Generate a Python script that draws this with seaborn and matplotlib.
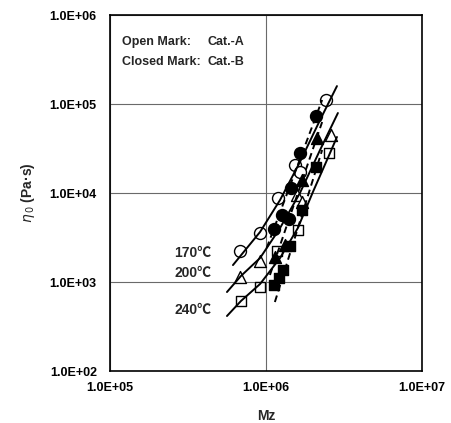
import matplotlib
matplotlib.use("Agg")
import matplotlib.pyplot as plt
import numpy as np
import pandas as pd
import seaborn as sns

# ---- measured zero-shear viscosity vs. Mz ----
# Cat.-A (open marks)
mz_a170 = [6.81e5, 9.16e5, 1.19e6, 1.54e6, 1.65e6, 2.43e6]
eta_a170 = [2.23e3, 3.56e3, 8.79e3, 2.06e4, 1.72e4, 1.11e5]
mz_a200 = [6.81e5, 9.16e5, 1.58e6, 1.70e6, 2.61e6]
eta_a200 = [1.14e3, 1.72e3, 9.5e3, 7.93e3, 4.49e4]
mz_a240 = [6.91e5, 9.16e5, 1.17e6, 1.60e6, 2.54e6]
eta_a240 = [612, 879, 2.23e3, 3.84e3, 2.81e4]
# Cat.-B (closed marks)
mz_b170 = [1.125e6, 1.27e6, 1.40e6, 1.45e6, 1.65e6, 2.09e6]
eta_b170 = [3.94e3, 5.66e3, 5.1e3, 1.14e4, 2.81e4, 7.33e4]
mz_b200 = [1.14e6, 1.32e6, 1.70e6, 2.12e6]
eta_b200 = [1.91e3, 2.6e3, 1.4e4, 4.15e4]
mz_b240 = [1.125e6, 1.21e6, 1.28e6, 1.43e6, 1.70e6, 2.09e6]
eta_b240 = [925, 1.11e3, 1.36e3, 2.54e3, 6.44e3, 1.96e4]

# ---- fitted curves (solid: Cat.-A, dashed: Cat.-B) ----
fit_mz_a170 = [6.14e5, 9.16e5, 1.23e6, 1.65e6, 2.22e6, 2.85e6]
fit_eta_a170 = [1.55e3, 3.65e3, 8.34e3, 2.23e4, 6.61e4, 1.59e5]
fit_mz_a200 = [5.62e5, 6.91e5, 9.16e5, 1.23e6, 1.65e6, 2.22e6, 2.89e6]
fit_eta_a200 = [772, 1.17e3, 1.86e3, 4.04e3, 1.0e4, 3.04e4, 7.92e4]
fit_mz_a240 = [5.62e5, 6.91e5, 9.16e5, 1.23e6, 1.60e6, 2.00e6, 2.54e6, 2.85e6]
fit_eta_a240 = [415, 612, 950, 1.86e3, 4.04e3, 1.03e4, 2.67e4, 4.26e4]
fit_mz_b170 = [1.01e6, 2.29e6]
fit_eta_b170 = [2.41e3, 1.11e5]
fit_mz_b200 = [1.06e6, 2.29e6]
fit_eta_b200 = [1.2e3, 6.28e4]
fit_mz_b240 = [1.14e6, 2.29e6]
fit_eta_b240 = [596, 3.04e4]

temps = ["170℃", "200℃", "240℃"]
x_ticks = [1e5, 1e6, 1e7]
x_ticklabels = ["1.0E+05", "1.0E+06", "1.0E+07"]
y_ticks = [1e2, 1e3, 1e4, 1e5, 1e6]
y_ticklabels = ["1.0E+02", "1.0E+03", "1.0E+04", "1.0E+05", "1.0E+06"]

sns.set_theme(style="white")
plt.rcParams["font.family"] = ["Liberation Sans", "DejaVu Sans"]
plt.rcParams["mathtext.fontset"] = "dejavusans"

fig = plt.figure(figsize=(4.52, 4.23), dpi=100)
ax = fig.add_axes([0.2434, 0.1229, 0.6902, 0.8416])
ax.set_xscale("log")
ax.set_yscale("log")

# markers
marker_sets = [
    (mz_a170, eta_a170, "o", 74, "white"),
    (mz_a200, eta_a200, "^", 74, "white"),
    (mz_a240, eta_a240, "s", 52, "white"),
    (mz_b170, eta_b170, "o", 74, "black"),
    (mz_b200, eta_b200, "^", 74, "black"),
    (mz_b240, eta_b240, "s", 52, "black"),
]
for mz, eta, mk, s, fc in marker_sets:
    df = pd.DataFrame({"Mz": mz, "eta": eta})
    sns.scatterplot(data=df, x="Mz", y="eta", marker=mk, s=s, facecolor=fc,
                    edgecolor="black", linewidth=1.0, ax=ax, zorder=3)

# curves
curve_sets = [
    (fit_mz_a170, fit_eta_a170, "-"),
    (fit_mz_a200, fit_eta_a200, "-"),
    (fit_mz_a240, fit_eta_a240, "-"),
    (fit_mz_b170, fit_eta_b170, (0, (3.5, 2.2))),
    (fit_mz_b200, fit_eta_b200, (0, (3.5, 2.2))),
    (fit_mz_b240, fit_eta_b240, (0, (3.5, 2.2))),
]
for mz, eta, ls in curve_sets:
    df = pd.DataFrame({"Mz": mz, "eta": eta})
    sns.lineplot(data=df, x="Mz", y="eta", color="black", linewidth=1.4,
                 linestyle=ls, estimator=None, sort=False, ax=ax, zorder=4)

ax.set_xlim(1e5, 1e7)
ax.set_ylim(1e2, 1e6)
ax.set_xticks(x_ticks)
ax.set_xticklabels(x_ticklabels)
ax.set_yticks(y_ticks)
ax.set_yticklabels(y_ticklabels)
ax.minorticks_off()
ax.tick_params(axis="both", length=0, labelsize=9, colors="black")
ax.tick_params(axis="x", pad=8)
ax.tick_params(axis="y", pad=9.5)
for lab in ax.get_xticklabels() + ax.get_yticklabels():
    lab.set_fontweight("bold")

ax.grid(True, which="major", color="#6a6a6a", linewidth=0.8)
ax.set_axisbelow(True)
for sp in ax.spines.values():
    sp.set_color("black")
    sp.set_linewidth(1.2)

ax.set_xlabel("Mz", fontsize=10, fontweight="bold", labelpad=11)
ax.set_ylabel(r"$\eta_{\,0}$ (Pa·s)", fontsize=10, fontweight="bold", labelpad=9)

# key
ax.text(0.038, 0.924, "Open Mark:", transform=ax.transAxes, fontsize=9,
        fontweight="bold", va="center", ha="left")
ax.text(0.314, 0.924, "Cat.-A", transform=ax.transAxes, fontsize=9,
        fontweight="bold", va="center", ha="left")
ax.text(0.038, 0.868, "Closed Mark:", transform=ax.transAxes, fontsize=9,
        fontweight="bold", va="center", ha="left")
ax.text(0.314, 0.868, "Cat.-B", transform=ax.transAxes, fontsize=9,
        fontweight="bold", va="center", ha="left")

# temperature labels
for t, yy in zip(temps, [0.331, 0.275, 0.171]):
    ax.text(0.266, yy, t, transform=ax.transAxes, fontsize=10,
            fontweight="bold", va="center", ha="center",
            family=["Liberation Sans", "Noto Sans CJK JP", "DejaVu Sans"])

fig.savefig("out.png", dpi=100)
